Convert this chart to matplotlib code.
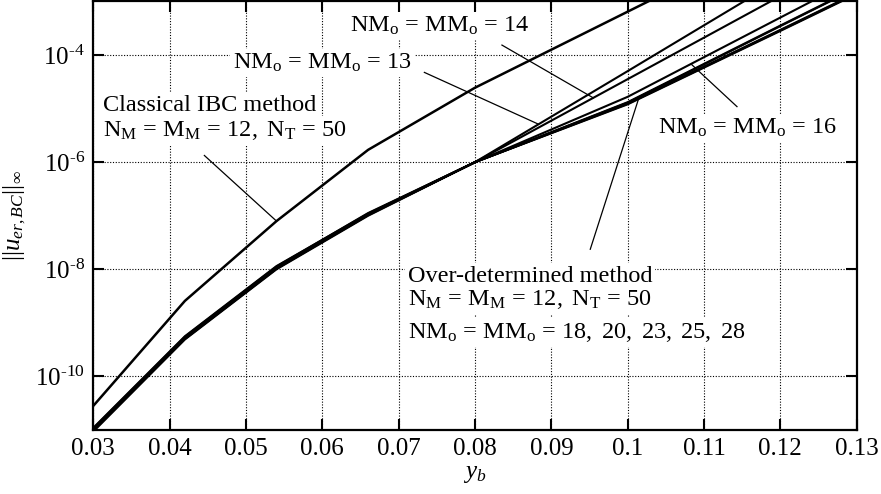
import numpy as np
import matplotlib
matplotlib.use("Agg")
import matplotlib.pyplot as plt
from matplotlib.ticker import FixedLocator, NullLocator, FuncFormatter

plt.rcParams['font.family'] = ['Liberation Serif', 'DejaVu Serif']
plt.rcParams['mathtext.fontset'] = 'custom'
plt.rcParams['mathtext.rm'] = 'Liberation Serif'
plt.rcParams['mathtext.it'] = 'Liberation Serif:italic'
plt.rcParams['mathtext.bf'] = 'Liberation Serif:bold'

# ---- data (log10 of error) ----
yb = [0.03, 0.042, 0.054, 0.066, 0.08, 0.10, 0.12, 0.13]
log_classical = [-10.55, -8.59, -7.10, -5.77, -4.61, -3.19, -1.77, -1.06]
log_nm13 = [-11.0, -9.29, -7.98, -6.98, -6.0, -4.30, -2.59, -1.74]
log_nm14 = [-11.0, -9.29, -7.98, -6.98, -6.0, -4.45, -2.90, -2.13]
log_nm16 = [-11.0, -9.29, -7.98, -6.98, -6.0, -4.78, -3.30, -2.56]
log_nm18 = [-11.03, -9.31, -8.00, -7.00, -6.0, -4.88, -3.45, -2.74]
log_nm20 = [-10.99, -9.28, -7.97, -6.97, -6.0, -4.89, -3.46, -2.75]
log_nm23 = [-10.97, -9.26, -7.95, -6.95, -6.0, -4.90, -3.53, -2.84]
log_nm25 = [-11.01, -9.30, -7.99, -6.99, -6.0, -4.91, -3.54, -2.85]
log_nm28 = [-10.96, -9.25, -7.94, -6.96, -6.0, -4.92, -3.55, -2.86]

x_ticks = [0.03, 0.04, 0.05, 0.06, 0.07, 0.08, 0.09, 0.10, 0.11, 0.12, 0.13]
y_tick_exps = [-10, -8, -6, -4]

# annotation pointers: (x0, log y0) -> (x1, log y1)
ptr_classical = [(0.04455, -5.875), (0.054, -7.10)]
ptr_13 = [(0.07337, -4.324), (0.0883, -5.29)]
ptr_14 = [(0.08353, -3.814), (0.0955, -4.80)]
ptr_16 = [(0.11432, -4.963), (0.1084, -4.18)]
ptr_od = [(0.0951, -7.626), (0.1014, -4.83)]

fig = plt.figure(figsize=(8.81, 4.94), dpi=100)
ax = fig.add_axes([0.1059, 0.1296, 0.9724 - 0.1059, 0.997 - 0.1296])

def p(v):
    return 10.0 ** np.asarray(v)

ax.plot(yb, p(log_classical), color='black', lw=1.8, zorder=4)
for s in [log_nm13, log_nm14, log_nm16, log_nm18, log_nm20, log_nm23, log_nm25, log_nm28]:
    ax.plot(yb, p(s), color='black', lw=1.5, zorder=4)

for ptr in [ptr_classical, ptr_13, ptr_14, ptr_16, ptr_od]:
    xs = [ptr[0][0], ptr[1][0]]
    ys = p([ptr[0][1], ptr[1][1]])
    ax.plot(xs, ys, color='black', lw=0.9, zorder=4)

ax.set_yscale('log')
ax.set_xlim(0.03, 0.13)
ax.set_ylim(1e-11, 1e-3)
ax.xaxis.set_major_locator(FixedLocator(x_ticks))
ax.xaxis.set_major_formatter(FuncFormatter(lambda v, pos: '%g' % round(v, 3)))
ax.yaxis.set_major_locator(FixedLocator([10.0 ** e for e in y_tick_exps]))
ax.yaxis.set_major_formatter(FuncFormatter(
    lambda v, pos: r'$\mathregular{10}^{\mathregular{\text{-}%d}}$' % int(round(-np.log10(v)))))
ax.yaxis.set_minor_locator(NullLocator())
ax.xaxis.set_minor_locator(NullLocator())

ax.tick_params(which='major', direction='in', length=8, width=1.5,
               top=True, right=True, labelsize=18, pad=6)
for sp in ax.spines.values():
    sp.set_linewidth(1.6)
ax.grid(True, which='major', color='black', linestyle=(0, (1, 1.5)), linewidth=0.8)
ax.set_axisbelow(True)

ax.set_xlabel(r'$y_b$', fontsize=18, labelpad=2)
ax.set_ylabel(r'$||u_{er,BC}||_\infty$', fontsize=18)
ax.yaxis.set_label_coords(-0.085, 0.5)

bb = dict(facecolor='white', edgecolor='none', pad=2)
fs = 17.5
H = 494
def txt(xpx, ybase, s):
    ax.text(xpx / 881, 1 - ybase / H, s, transform=fig.transFigure, fontsize=fs,
            va='baseline', ha='left', bbox=bb, zorder=3)

txt(350, 32, r'$\mathregular{NM_o\,=\,MM_o\,=\,14}$')
txt(233, 69, r'$\mathregular{NM_o\,=\,MM_o\,=\,13}$')
txt(103, 111, r'Classical IBC method')
txt(103, 136, r'$\mathregular{N_M\,=\,M_M\,=\,12,\ N_T\,=\,50}$')
txt(658, 134, r'$\mathregular{NM_o\,=\,MM_o\,=\,16}$')
txt(408, 282, r'Over-determined method')
txt(408, 305, r'$\mathregular{N_M\,=\,M_M\,=\,12,\ N_T\,=\,50}$')
txt(408, 338, r'$\mathregular{NM_o\,=\,MM_o\,=\,18,\ 20,\ 23,\ 25,\ 28}$')

fig.savefig('out.png', dpi=100)
